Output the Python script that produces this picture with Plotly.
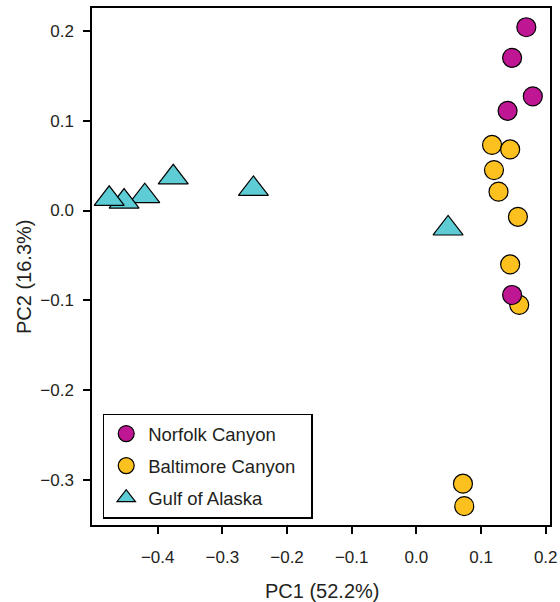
import plotly.graph_objects as go

# ---- data ----
norfolk_pc1 = [0.170, 0.148, 0.180, 0.141, 0.148]
norfolk_pc2 = [0.204, 0.170, 0.127, 0.111, -0.094]

baltimore_pc1 = [0.117, 0.145, 0.120, 0.127, 0.157, 0.145, 0.159, 0.072, 0.074]
baltimore_pc2 = [0.073, 0.068, 0.045, 0.021, -0.007, -0.060, -0.105, -0.304, -0.329]

gulf_pc1 = [0.049, -0.252, -0.376, -0.420, -0.452, -0.475]
gulf_pc2 = [-0.020, 0.024, 0.037, 0.016, 0.010, 0.013]

x_ticks = [-0.4, -0.3, -0.2, -0.1, 0.0, 0.1, 0.2]
x_tick_labels = ["\u22120.4", "\u22120.3", "\u22120.2", "\u22120.1", "0.0", "0.1", "0.2"]
y_ticks = [-0.3, -0.2, -0.1, 0.0, 0.1, 0.2]
y_tick_labels = ["\u22120.3", "\u22120.2", "\u22120.1", "0.0", "0.1", "0.2"]

x_title = "PC1 (52.2%)"
y_title = "PC2 (16.3%)"

FONT = "Liberation Sans, Arial, sans-serif"
TXT = "#231F20"

fig = go.Figure()
fig.add_trace(go.Scatter(
    x=baltimore_pc1, y=baltimore_pc2, mode="markers", name="Baltimore Canyon\u00a0\u00a0",
    legendgroup="b", legendrank=2,
    marker=dict(symbol="circle", size=19, color="#FDC11F", line=dict(color="black", width=1.2))))
fig.add_trace(go.Scatter(
    x=norfolk_pc1, y=norfolk_pc2, mode="markers", name="Norfolk Canyon",
    legendgroup="a", legendrank=1,
    marker=dict(symbol="circle", size=19, color="#BF1793", line=dict(color="black", width=1.2))))
fig.add_trace(go.Scatter(
    x=gulf_pc1, y=gulf_pc2, mode="markers", name="Gulf of Alaska",
    legendgroup="c", legendrank=3,
    marker=dict(symbol="triangle-up", size=26, color="#5ECCD5", line=dict(color="black", width=1.2))))

axis_common = dict(
    showline=True, linecolor="black", linewidth=1.5, mirror=True,
    ticks="outside", ticklen=7, tickwidth=1.5, tickcolor="black",
    showgrid=False, zeroline=False, automargin=False,
    tickfont=dict(family=FONT, size=17, color=TXT),
)

fig.update_layout(
    width=560, height=602,
    margin=dict(l=92, r=10, t=8, b=77),
    paper_bgcolor="white", plot_bgcolor="white",
    font=dict(family=FONT, color=TXT),
    xaxis=dict(range=[-0.5016, 0.2066], tickvals=x_ticks, ticktext=x_tick_labels,
               ticklabelstandoff=9, **axis_common),
    yaxis=dict(range=[-0.350, 0.2254], tickvals=y_ticks, ticktext=y_tick_labels,
               ticklabelstandoff=6, **axis_common),
    legend=dict(x=0.0234, y=0.0125, xanchor="left", yanchor="bottom",
                bordercolor="black", borderwidth=1.5, bgcolor="white",
                font=dict(family=FONT, size=18.5, color=TXT),
                itemwidth=34,
                traceorder="grouped", tracegroupgap=5),
    showlegend=True,
    annotations=[
        dict(text=x_title, xref="paper", yref="paper", x=0.503, y=-0.1277,
             xanchor="center", yanchor="middle", showarrow=False,
             font=dict(family=FONT, size=20, color=TXT)),
        dict(text=y_title, xref="paper", yref="paper", x=-0.1485, y=0.4816,
             xanchor="center", yanchor="middle", textangle=-90, showarrow=False,
             font=dict(family=FONT, size=20, color=TXT)),
    ],
)

fig.write_html("out.html", config={"displayModeBar": False},
               post_script="document.body.style.margin='0';document.body.style.overflow='hidden';")
